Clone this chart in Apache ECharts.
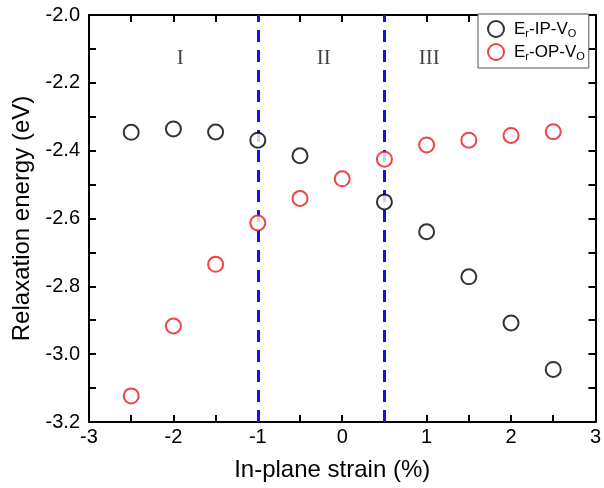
<!DOCTYPE html>
<html>
<head>
<meta charset="utf-8">
<script src="https://cdn.jsdelivr.net/npm/echarts@6/dist/echarts.min.js"></script>
<style>html,body{margin:0;padding:0;background:#fff}#c{width:604px;height:488px}</style>
</head>
<body>
<div id="c"></div>
<script>
var strainIP = [-2.5, -2, -1.5, -1, -0.5, 0.5, 1, 1.5, 2, 2.5];
var energyIP = [-2.346, -2.336, -2.345, -2.369, -2.415, -2.551, -2.639, -2.772, -2.908, -3.045];
var strainOP = [-2.5, -2, -1.5, -1, -0.5, 0, 0.5, 1, 1.5, 2, 2.5];
var energyOP = [-3.123, -2.917, -2.735, -2.613, -2.541, -2.483, -2.425, -2.383, -2.369, -2.355, -2.344];
var boundaries = [-1, 0.5];
var regionNames = ['I', 'II', 'III'];
var regionX = [-1.92, -0.22, 1.03];
var regionY = -2.127;
var seriesNames = ['Er-IP-VO', 'Er-OP-VO'];
var xTicks = {min: -3, max: 3, interval: 1};
var yTicks = {min: -3.2, max: -2.0, interval: 0.2};

function zip(a, b) { return a.map(function (v, i) { return [v, b[i]]; }); }

var chart = echarts.init(document.getElementById('c'), null, {renderer: 'canvas'});
function axisLine() { return {onZero: false, lineStyle: {color: '#000', width: 2}}; }
function tickStyle() { return {inside: true, length: 7, lineStyle: {color: '#000', width: 2}}; }
function minorStyle() { return {show: true, splitNumber: 2, length: 7, lineStyle: {color: '#000', width: 2}}; }
var font = 'Liberation Sans, Arial, sans-serif';

var legendRich = {
  a: {fontSize: 17, fontFamily: font, color: '#000'},
  s: {fontSize: 11, fontFamily: font, color: '#000', verticalAlign: 'bottom', padding: [9, 0, 0, 0]}
};

var option = {
  animation: false,
  backgroundColor: '#fff',
  grid: {left: 89, right: 4, top: 15, bottom: 66},
  legend: {
    orient: 'vertical',
    left: 478, top: 14,
    padding: [6, 4, 6, 9],
    itemGap: 4,
    itemWidth: 16, itemHeight: 16,
    borderColor: '#555', borderWidth: 1,
    backgroundColor: '#fff',
    data: [{name: seriesNames[0], icon: 'emptyCircle'}, {name: seriesNames[1], icon: 'emptyCircle'}],
    formatter: function (n) {
      return n === seriesNames[0] ? '{a|E}{s|r}{a|-IP-V}{s|O}' : '{a|E}{s|r}{a|-OP-V}{s|O}';
    },
    textStyle: {rich: legendRich, padding: [0, 0, 0, 5]}
  },
  xAxis: [{
    type: 'value', min: xTicks.min, max: xTicks.max, interval: xTicks.interval,
    name: 'In-plane strain (%)', nameLocation: 'middle', nameGap: 36,
    nameTextStyle: {fontSize: 24, fontFamily: font, color: '#000', padding: [0, 20, 0, 0]},
    axisLine: axisLine(), axisTick: tickStyle(), minorTick: minorStyle(),
    splitLine: {show: false},
    axisLabel: {fontSize: 20, fontFamily: font, color: '#000', margin: 5}
  }, {
    type: 'value', position: 'top', min: xTicks.min, max: xTicks.max, interval: xTicks.interval,
    axisLine: axisLine(), axisTick: tickStyle(), minorTick: minorStyle(),
    splitLine: {show: false}, axisLabel: {show: false}
  }],
  yAxis: [{
    type: 'value', min: yTicks.min, max: yTicks.max, interval: yTicks.interval,
    name: 'Relaxation energy (eV)', nameLocation: 'middle', nameGap: 53,
    nameTextStyle: {fontSize: 24, fontFamily: font, color: '#000'},
    axisLine: axisLine(), axisTick: tickStyle(), minorTick: minorStyle(),
    splitLine: {show: false},
    axisLabel: {fontSize: 20, fontFamily: font, color: '#000', margin: 9,
      formatter: function (v) { return v.toFixed(1); }}
  }, {
    type: 'value', position: 'right', min: yTicks.min, max: yTicks.max, interval: yTicks.interval,
    axisLine: axisLine(), axisTick: tickStyle(), minorTick: minorStyle(),
    splitLine: {show: false}, axisLabel: {show: false}
  }],
  series: [{
    name: seriesNames[0], type: 'scatter', symbol: 'emptyCircle', symbolSize: 15,
    itemStyle: {color: '#000', borderColor: '#000', borderWidth: 1.8},
    data: zip(strainIP, energyIP), z: 5,
    markLine: {
      silent: true, symbol: 'none', animation: false,
      label: {show: false},
      lineStyle: {color: '#1414e6', width: 3, type: [12, 8]},
      data: boundaries.map(function (b) { return {xAxis: b}; })
    }
  }, {
    name: seriesNames[1], type: 'scatter', symbol: 'emptyCircle', symbolSize: 15,
    itemStyle: {color: '#e8141c', borderColor: '#e8141c', borderWidth: 1.8},
    data: zip(strainOP, energyOP), z: 5
  }, {
    name: 'regions', type: 'scatter', symbolSize: 0, silent: true,
    data: regionNames.map(function (n, i) { return {value: [regionX[i], regionY], name: n}; }),
    label: {show: true, position: 'inside', formatter: '{b}',
      fontSize: 21, fontFamily: 'Liberation Serif, Times New Roman, serif', color: '#111'}
  }]
};
chart.setOption(option);
</script>
</body>
</html>
